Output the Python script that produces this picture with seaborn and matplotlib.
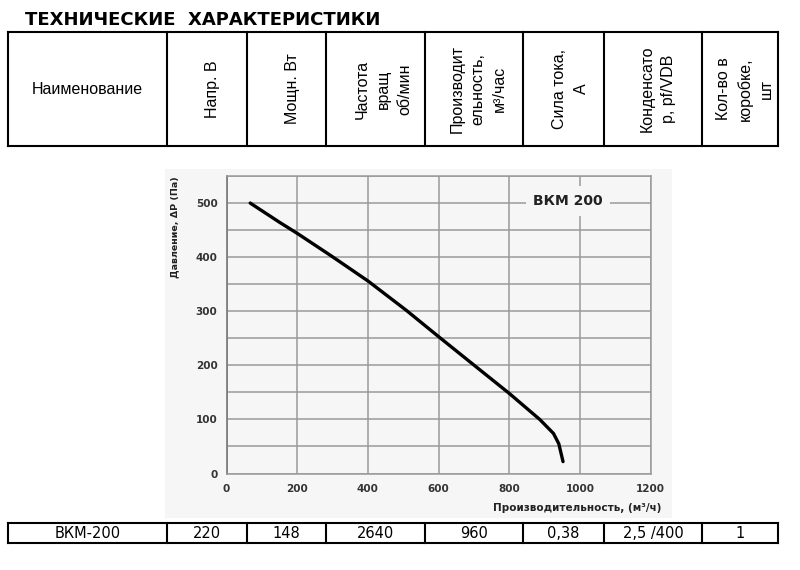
import matplotlib
matplotlib.use("Agg")
import matplotlib.pyplot as plt
import seaborn as sns
import pandas as pd
from matplotlib.transforms import Affine2D
from matplotlib.lines import Line2D
from matplotlib.patches import Rectangle

# ---------------- data ----------------
title = "ТЕХНИЧЕСКИЕ  ХАРАКТЕРИСТИКИ"
header_labels = [
    "Наименование",
    "Напр. В",
    "Мощн. Вт",
    "Частота\nвращ\nоб/мин",
    "Производит\nельность,\nм³/час",
    "Сила тока,\nА",
    "Конденсато\nр, pf/VDB",
    "Кол-во в\nкоробке,\nшт",
]
row_values = ["ВКМ-200", "220", "148", "2640", "960", "0,38", "2,5 /400", "1"]

flow = [67, 151, 200, 297, 400, 508, 600, 718, 800, 886, 925, 940, 952]
pressure = [500, 464, 444, 402, 356, 302, 253, 191, 148, 100, 74, 55, 22]
x_ticks = [0, 200, 400, 600, 800, 1000, 1200]
y_ticks = [0, 100, 200, 300, 400, 500]
y_minor = [50, 150, 250, 350, 450, 550]
curve_name = "ВКМ 200"
x_label = "Производительность, (м³/ч)"
y_label = "Давление, ΔP (Па)"

# ---------------- figure ----------------
sns.set_style("white")
plt.rcParams["font.family"] = ["DejaVu Sans"]

W, H = 800, 570
fig = plt.figure(figsize=(W / 100, H / 100), dpi=100)
fig.patch.set_facecolor("white")
pix = Affine2D().scale(1 / W, -1 / H).translate(0, 1) + fig.transFigure

# title
fig.text(25, 20, title, transform=pix, ha="left", va="center",
         fontsize=13, fontweight="heavy", family="DejaVu Sans", color="black")

# table geometry (pixels)
col_x = [8, 167, 247, 326, 425, 523, 604, 702, 778]
hdr_top, hdr_bot = 32, 146
row_top, row_bot = 523, 543
lw_tab = 1.5

def hline(y, x0, x1):
    fig.add_artist(Line2D([x0, x1], [y, y], transform=pix, color="black", lw=lw_tab,
                          solid_capstyle="projecting"))

def vline(x, y0, y1):
    fig.add_artist(Line2D([x, x], [y0, y1], transform=pix, color="black", lw=lw_tab,
                          solid_capstyle="projecting"))

for (t, b) in [(hdr_top, hdr_bot), (row_top, row_bot)]:
    hline(t, col_x[0], col_x[-1])
    hline(b, col_x[0], col_x[-1])
    for x in col_x:
        vline(x, t, b)

# header texts
hdr_offsets = [0, 5, 6, 8, 4, 7, 5, 5]
for i, lab in enumerate(header_labels):
    cx = (col_x[i] + col_x[i + 1]) / 2 + hdr_offsets[i]
    rot = 0 if i == 0 else 90
    fig.text(cx, 89, lab, transform=pix, ha="center", va="center", rotation=rot,
             multialignment="center", fontsize=11.5, family="Liberation Sans",
             linespacing=1.5, color="black")

# bottom row texts
for i, v in enumerate(row_values):
    cx = (col_x[i] + col_x[i + 1]) / 2
    fig.text(cx, 533, v, transform=pix, ha="center", va="center",
             fontsize=10.5, family="DejaVu Sans", color="black")

# chart background panel
bg = "#f6f6f6"
fig.add_artist(Rectangle((165, 169), 672 - 165, 518 - 169, transform=pix,
                         facecolor=bg, edgecolor="none", zorder=0))

# axes
ax_l, ax_r, ax_t, ax_b = 226.5, 650.7, 176.0, 473.5
ax = fig.add_axes([ax_l / W, 1 - ax_b / H, (ax_r - ax_l) / W, (ax_b - ax_t) / H])
ax.set_facecolor(bg)

df = pd.DataFrame({"flow": flow, "pressure": pressure})
sns.lineplot(data=df, x="flow", y="pressure", color="black", lw=2.4,
             estimator=None, sort=False, ax=ax, zorder=5)

ax.set_xlim(0, 1200)
ax.set_ylim(0, 550)
ax.set_xticks(x_ticks)
ax.set_yticks(y_ticks)
ax.set_yticks(y_minor, minor=True)
ax.grid(which="both", color="#9a9a9a", lw=1.1)
ax.set_axisbelow(True)
ax.set_xlabel("")
ax.set_ylabel("")
ax.tick_params(axis="y", which="major", length=3, width=1, color="#888888",
               pad=3.5, labelsize=7.5, labelcolor="#333333")
ax.tick_params(axis="x", which="major", length=3, width=1, color="#888888",
               pad=4.5, labelsize=7.5, labelcolor="#333333")
ax.tick_params(which="minor", length=0)
for lbl in ax.get_xticklabels() + ax.get_yticklabels():
    lbl.set_fontweight("bold")
for side in ["top", "right", "bottom"]:
    ax.spines[side].set_color("#9a9a9a")
    ax.spines[side].set_linewidth(1.1)
ax.spines["left"].set_color("#777777")
ax.spines["left"].set_linewidth(1.2)

# curve label
ax.text(966, 504, curve_name, ha="center", va="center", fontsize=10,
        fontweight="bold", color="#222222", zorder=6,
        bbox=dict(boxstyle="square,pad=0.55", facecolor=bg, edgecolor="none"))

# axis labels
fig.text(175, 176, y_label, transform=pix, rotation=90, ha="center", va="top",
         fontsize=6.8, fontweight="bold", color="#222222")
fig.text(661, 508, x_label, transform=pix, ha="right", va="center",
         fontsize=7.5, fontweight="bold", color="#222222")

fig.savefig("out.png", dpi=100, facecolor="white")
